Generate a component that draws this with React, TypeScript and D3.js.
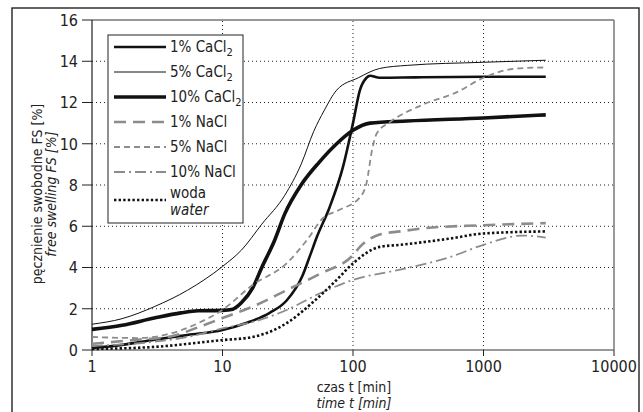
import React from 'react';
import * as d3 from 'd3';

// ---- data (t in min, FS in %) ----
const tCa1 = [1, 1.7, 3, 5.4, 10, 15, 23, 31, 41, 47, 53, 66, 84, 100, 113, 127, 135, 160, 300, 1000, 3000];
const fsCa1 = [0.1, 0.25, 0.5, 0.73, 0.97, 1.3, 1.8, 2.4, 3.6, 4.6, 5.5, 6.9, 8.9, 11.0, 12.6, 13.2, 13.3, 13.2, 13.22, 13.25, 13.25];

const tCa5 = [1, 1.7, 3, 5.4, 10, 14, 20, 30, 40, 50, 60, 75, 110, 160, 260, 1000, 3000];
const fsCa5 = [1.25, 1.52, 2.1, 2.9, 4.05, 4.85, 6.1, 7.5, 9.0, 10.6, 11.6, 12.6, 13.2, 13.65, 13.8, 13.95, 14.05];

const tCa10 = [1, 1.7, 3, 4.8, 6.5, 10, 12, 14, 17, 20, 25, 30, 40, 55, 75, 100, 135, 260, 1000, 3000];
const fsCa10 = [1.0, 1.2, 1.55, 1.8, 1.9, 1.92, 1.98, 2.3, 3.0, 4.0, 5.3, 6.6, 8.0, 9.1, 10.0, 10.65, 11.0, 11.1, 11.25, 11.4];

const tNa1 = [1, 2.25, 4, 6.5, 10, 17, 31, 56, 100, 113, 160, 230, 345, 1000, 3000];
const fsNa1 = [0.3, 0.5, 0.65, 1.1, 1.55, 2.1, 2.9, 3.7, 4.6, 5.0, 5.6, 5.75, 5.9, 6.05, 6.15];

const tNa5 = [1, 2.25, 4, 6.5, 10, 17, 31, 44, 59, 79, 113, 127, 140, 152, 192, 345, 625, 1000, 1800, 3000];
const fsNa5 = [0.63, 0.58, 0.8, 1.3, 1.95, 3.15, 4.2, 5.3, 6.4, 6.8, 7.4, 8.1, 9.7, 10.5, 11.05, 11.9, 12.5, 13.2, 13.65, 13.7];

const tNa10 = [1, 3, 5.4, 10, 17, 31, 56, 100, 230, 550, 1000, 2000, 3000];
const fsNa10 = [0.2, 0.4, 0.63, 1.05, 1.36, 1.94, 2.75, 3.4, 3.9, 4.5, 5.1, 5.55, 5.45];

const tWater = [1, 3, 10, 17, 31, 49, 75, 100, 160, 230, 550, 1000, 3000];
const fsWater = [0.05, 0.15, 0.48, 0.63, 1.3, 2.3, 3.4, 4.2, 5.0, 5.1, 5.4, 5.65, 5.75];

const xTicks = [1, 10, 100, 1000, 10000];
const yTicks = [0, 2, 4, 6, 8, 10, 12, 14, 16];

const GREY = '#8c8c8c';
const FONT = "'Liberation Sans Narrow', 'Arial Narrow', 'DejaVu Sans Condensed', sans-serif";

const series = [
  { label: '1% CaCl', sub: '2', t: tCa1, v: fsCa1, color: '#111', width: 2.6, dash: undefined },
  { label: '5% CaCl', sub: '2', t: tCa5, v: fsCa5, color: '#111', width: 1, dash: undefined },
  { label: '10% CaCl', sub: '2', t: tCa10, v: fsCa10, color: '#111', width: 3.6, dash: undefined },
  { label: '1% NaCl', sub: '', t: tNa1, v: fsNa1, color: GREY, width: 2.6, dash: '12,7' },
  { label: '5% NaCl', sub: '', t: tNa5, v: fsNa5, color: GREY, width: 1.8, dash: '6,4' },
  { label: '10% NaCl', sub: '', t: tNa10, v: fsNa10, color: GREY, width: 1.8, dash: '11,4,2,4' },
  { label: 'woda', sub: '', t: tWater, v: fsWater, color: '#111', width: 2.6, dash: '2.4,2.2' },
];

const margin = { left: 92, right: 29, top: 20, bottom: 62 };
const W = 643;
const H = 412;

export default function App() {
  const x = d3.scaleLog().domain([1, 10000]).range([margin.left, W - margin.right]);
  const y = d3.scaleLinear().domain([0, 16]).range([H - margin.bottom, margin.top]);

  const line = d3
    .line<[number, number]>()
    .x((d) => x(d[0]))
    .y((d) => y(d[1]))
    .curve(d3.curveMonotoneX);

  const x0 = x.range()[0];
  const x1 = x.range()[1];
  const y0 = y.range()[0];
  const y1 = y.range()[1];

  const legX = 108;
  const legY = 35;
  const rowY = (i: number) => legY + 12 + i * 25;

  return (
    <svg
      width={W}
      height={H}
      style={{ position: 'absolute', left: 0, top: 0, background: '#fff' }}
      fontFamily={FONT}
    >
      {/* outer frame */}
      <rect x={12} y={8} width={627} height={420} fill="none" stroke="#222" strokeWidth={1.4} />

      {/* grid */}
      {yTicks.filter((d) => d > 0 && d < 16).map((d) => (
        <line key={'gy' + d} x1={x0} x2={x1} y1={y(d)} y2={y(d)} stroke="#222" strokeWidth={1} strokeDasharray="1,3" />
      ))}
      {xTicks.filter((d) => d > 1 && d < 10000).map((d) => (
        <line key={'gx' + d} x1={x(d)} x2={x(d)} y1={y0} y2={y1} stroke="#222" strokeWidth={1} strokeDasharray="1,3" />
      ))}

      {/* plot frame */}
      <line x1={x0} x2={x1} y1={y1} y2={y1} stroke="#333" strokeWidth={1.2} />
      <line x1={x1} x2={x1} y1={y1} y2={y0} stroke="#777" strokeWidth={1.5} />
      <line x1={x0} x2={x1} y1={y0} y2={y0} stroke="#777" strokeWidth={1.5} />
      <line x1={x0} x2={x0} y1={y1} y2={y0} stroke="#222" strokeWidth={1.2} />

      {/* y ticks */}
      {yTicks.map((d) => (
        <g key={'ty' + d}>
          <line x1={x0 - 10} x2={x0} y1={y(d)} y2={y(d)} stroke="#222" strokeWidth={1} />
          <text x={x0 - 14} y={y(d)} dy="0.36em" textAnchor="end" fontSize={16} fill="#222">
            {d}
          </text>
        </g>
      ))}

      {/* x ticks */}
      {xTicks.map((d) => (
        <g key={'tx' + d}>
          <line x1={x(d)} x2={x(d)} y1={y0} y2={y0 + 6} stroke="#222" strokeWidth={1} />
          <text x={x(d)} y={y0 + 22} textAnchor="middle" fontSize={16} fill="#222">
            {d}
          </text>
        </g>
      ))}

      {/* axis titles */}
      <text x={354} y={392} textAnchor="middle" fontSize={14} fill="#222">
        czas t [min]
      </text>
      <text x={354} y={408} textAnchor="middle" fontSize={14} fontStyle="italic" fill="#222">
        time t [min]
      </text>
      <g transform="translate(42,194) rotate(-90)">
        <text x={0} y={0} textAnchor="middle" fontSize={14} fill="#222">
          pęcznienie swobodne FS [%]
        </text>
        <text x={0} y={14} textAnchor="middle" fontSize={14} fontStyle="italic" fill="#222">
          free swelling FS [%]
        </text>
      </g>

      {/* curves */}
      <g fill="none">
        {series.map((s) => (
          <path
            key={s.label}
            d={line(s.t.map((t, i) => [t, s.v[i]] as [number, number])) || ''}
            stroke={s.color}
            strokeWidth={s.width}
            strokeDasharray={s.dash}
            strokeLinejoin="round"
          />
        ))}
      </g>

      {/* legend */}
      <rect x={legX} y={legY} width={135} height={188} fill="#fff" stroke="#222" strokeWidth={1} />
      {series.map((s, i) => {
        const isWater = i === 6;
        const ly = isWater ? legY + 165 : rowY(i);
        return (
          <g key={'leg' + s.label}>
            <line
              x1={legX + 6}
              x2={legX + 58}
              y1={ly}
              y2={ly}
              stroke={s.color}
              strokeWidth={s.width}
              strokeDasharray={s.dash}
            />
            {isWater ? (
              <>
                <text x={legX + 62} y={legY + 163} fontSize={15} fill="#222">
                  woda
                </text>
                <text x={legX + 62} y={legY + 180} fontSize={15} fontStyle="italic" fill="#222">
                  water
                </text>
              </>
            ) : (
              <text x={legX + 62} y={ly} dy="0.36em" fontSize={15} fill="#222">
                {s.label}
                {s.sub && (
                  <tspan dy={4} fontSize={11}>
                    {s.sub}
                  </tspan>
                )}
              </text>
            )}
          </g>
        );
      })}
    </svg>
  );
}
